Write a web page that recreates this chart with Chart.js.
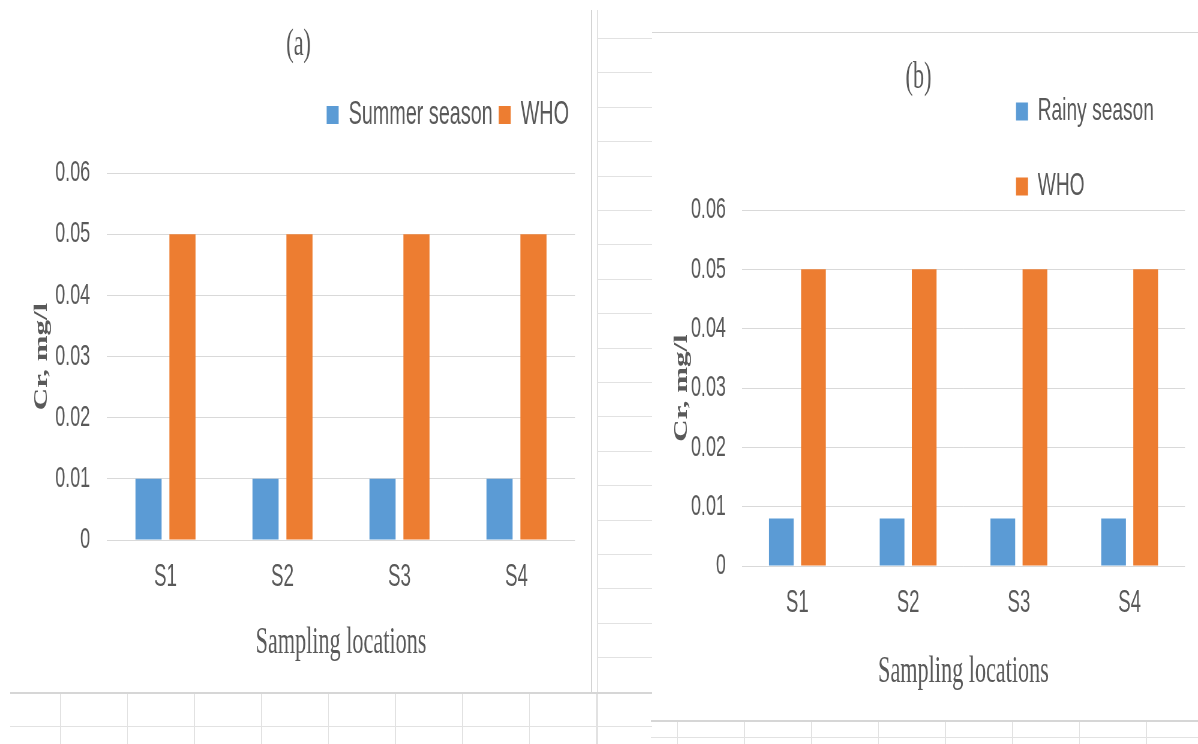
<!DOCTYPE html>
<html>
<head>
<meta charset="utf-8">
<script src="https://cdn.jsdelivr.net/npm/chart.js@4.4.1/dist/chart.umd.min.js"></script>
<style>
    html, body { margin: 0; padding: 0; background: #fff; }
    body { width: 1198px; height: 744px; position: relative; overflow: hidden; }
    .line { position: absolute; }
    canvas.squeezed { position: absolute; transform: scaleX(0.6); transform-origin: 0 0; }
</style>
</head>
<body>
<!-- spreadsheet cells showing around the two pasted charts -->
<div class="line" style="left:591px;top:10px;width:1px;height:682px;background:#d4d4d4"></div>
<div class="line" style="left:597px;top:10px;width:1px;height:734px;background:#e2e2e2"></div>
<div class="line" style="left:598px;top:38px;width:54px;height:654px;background:repeating-linear-gradient(180deg,#e2e2e2 0 1px,transparent 1px 34.4px)"></div>
<div class="line" style="left:10px;top:692px;width:642px;height:52px;background:
    linear-gradient(#d6d6d6,#d6d6d6) 0 0/100% 2px no-repeat,
    linear-gradient(#e2e2e2,#e2e2e2) 0 34px/100% 1px no-repeat,
    linear-gradient(90deg,#e2e2e2 0 1px,transparent 1px) 50px 0/67px 100% repeat-x"></div>
<div class="line" style="left:652px;top:32px;width:546px;height:1px;background:#d6d6d6"></div>
<div class="line" style="left:651px;top:720px;width:547px;height:24px;background:
    linear-gradient(#d6d6d6,#d6d6d6) 0 0/100% 2px no-repeat,
    linear-gradient(#e2e2e2,#e2e2e2) 0 17px/100% 1px no-repeat,
    linear-gradient(90deg,#e2e2e2 0 1px,transparent 1px) 26px 0/67px 100% repeat-x"></div>

<canvas id="chartA" class="squeezed" width="985" height="691" style="left:0;top:0"></canvas>
<canvas id="chartB" class="squeezed" width="910" height="687" style="left:652px;top:33px"></canvas>

<script>
const categories = ['S1', 'S2', 'S3', 'S4'];
const summerSeason = [0.01, 0.01, 0.01, 0.01];
const rainySeason = [0.008, 0.008, 0.008, 0.008];
const whoLimit = [0.05, 0.05, 0.05, 0.05];
const yTicks = [0, 0.01, 0.02, 0.03, 0.04, 0.05, 0.06];

const blue = '#5B9BD5';
const orange = '#ED7D31';
const textGrey = '#595959';
const sans = "'Liberation Sans', Arial, sans-serif";
const serif = "'Liberation Serif', 'Times New Roman', serif";

Chart.defaults.font.family = sans;
Chart.defaults.color = textGrey;

// moves the legend box to a fixed spot (used for the stacked legend of chart b)
const legendSpot = {
    id: 'legendSpot',
    afterLayout(chart, args, opts) {
        const lg = chart.legend;
        lg.left = opts.left;
        lg.top = opts.top;
        lg.right = opts.left + lg.width;
        lg.bottom = opts.top + lg.height;
    }
};

function barSet(label, values, color) {
    return {
        label: label,
        data: values,
        backgroundColor: color,
        categoryPercentage: 0.58,
        barPercentage: 0.77
    };
}

function scalesFor(yWidth, yTickPad, yTitlePad, xHeight) {
    return {
        x: {
            grid: { display: false, drawTicks: false },
            border: { display: false },
            ticks: { color: textGrey, font: { family: sans, size: 31 }, padding: 18.4 },
            title: {
                display: true,
                text: 'Sampling locations',
                color: textGrey,
                font: { family: serif, size: 37 },
                padding: { top: 0, bottom: 25.8 }
            },
            afterFit: function (s) { s.height = xHeight; }
        },
        y: {
            min: 0,
            max: 0.06,
            afterBuildTicks: function (s) { s.ticks = yTicks.map(v => ({ value: v })); },
            grid: { color: '#d9d9d9', drawTicks: false },
            border: { display: false },
            ticks: {
                color: textGrey,
                font: { family: sans, size: 30 },
                padding: yTickPad,
                callback: v => String(v)
            },
            title: {
                display: true,
                text: 'Cr, mg/l',
                color: textGrey,
                font: { family: serif, size: 31, weight: 'bold' },
                padding: { top: yTitlePad, bottom: 0 }
            },
            afterFit: function (s) { s.width = yWidth; }
        }
    };
}

new Chart(document.getElementById('chartA'), {
    type: 'bar',
    data: {
        labels: categories,
        datasets: [
            barSet('Summer season', summerSeason, blue),
            barSet('WHO', whoLimit, orange)
        ]
    },
    options: {
        responsive: false,
        animation: false,
        layout: { padding: { left: 0, right: 26.7, top: 0, bottom: 0 } },
        plugins: {
            tooltip: { enabled: false },
            title: {
                display: true,
                text: '    (a)',
                color: textGrey,
                font: { family: serif, size: 37, weight: 'normal' },
                padding: { top: 22.8, bottom: 21.3 }
            },
            subtitle: {
                display: true,
                text: '',
                weight: 100,
                font: { size: 10, lineHeight: 1 },
                padding: { top: 21.5, bottom: 0 }
            },
            legend: {
                position: 'top',
                align: 'end',
                labels: {
                    boxWidth: 20,
                    boxHeight: 18,
                    padding: 10,
                    color: textGrey,
                    font: { family: sans, size: 33 }
                }
            }
        },
        scales: scalesFor(178.3, 28, 51, 151)
    }
});

new Chart(document.getElementById('chartB'), {
    type: 'bar',
    data: {
        labels: categories,
        datasets: [
            barSet('Rainy season', rainySeason, blue),
            barSet('WHO', whoLimit, orange)
        ]
    },
    plugins: [legendSpot],
    options: {
        responsive: false,
        animation: false,
        layout: { padding: { left: 0, right: 21.7, top: 0, bottom: 0 } },
        plugins: {
            tooltip: { enabled: false },
            title: {
                display: true,
                text: '(b)',
                color: textGrey,
                font: { family: serif, size: 37, weight: 'normal' },
                padding: { top: 22.8, bottom: 109.8 }
            },
            legend: {
                position: 'chartArea',
                align: 'start',
                labels: {
                    boxWidth: 20,
                    boxHeight: 18,
                    padding: 43,
                    color: textGrey,
                    font: { family: sans, size: 32 }
                }
            },
            legendSpot: { left: 563.7, top: 19.5 }
        },
        scales: scalesFor(150, 26.7, 31, 154)
    }
});
</script>
</body>
</html>
